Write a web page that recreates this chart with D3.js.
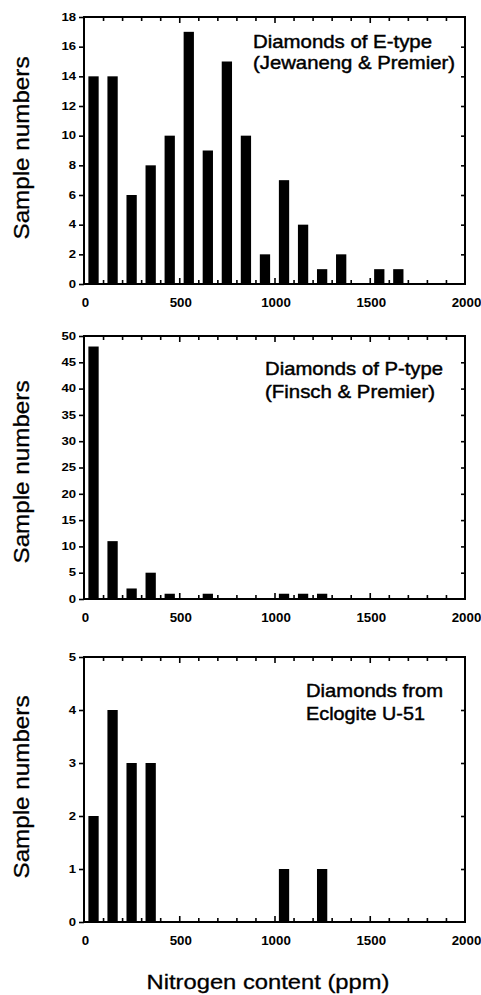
<!DOCTYPE html>
<html>
<head>
<meta charset="utf-8">
<script src="https://cdn.jsdelivr.net/npm/d3@7"></script>
<style>
  body { margin: 0; background: #fff; }
  svg { display: block; font-family: "Liberation Sans", Arial, sans-serif; }
</style>
</head>
<body>
<script>
// nitrogen bins (ppm), 100 ppm wide
const binCenters = [50, 150, 250, 350, 450, 550, 650, 750, 850, 950,
  1050, 1150, 1250, 1350, 1450, 1550, 1650, 1750, 1850, 1950];

const eTypeCounts = [14, 14, 6, 8, 10, 17, 9, 15, 10, 2, 7, 4, 1, 2, 0, 1, 1, 0, 0, 0];
const pTypeCounts = [48, 11, 2, 5, 1, 0, 1, 0, 0, 0, 1, 1, 1, 0, 0, 0, 0, 0, 0, 0];
const eclogiteCounts = [2, 4, 3, 3, 0, 0, 0, 0, 0, 0, 1, 0, 1, 0, 0, 0, 0, 0, 0, 0];

const eTypeTicks = [0, 2, 4, 6, 8, 10, 12, 14, 16, 18];
const pTypeTicks = [0, 5, 10, 15, 20, 25, 30, 35, 40, 45, 50];
const eclogiteTicks = [0, 1, 2, 3, 4, 5];

const xLabelTicks = [0, 500, 1000, 1500, 2000];
const xMinorTicks = [0, 100, 200, 300, 400, 500, 600, 700, 800, 900, 1000,
  1100, 1200, 1300, 1400, 1500, 1600, 1700, 1800, 1900, 2000];

const eTypeTitle = ["Diamonds of E-type", "(Jewaneng & Premier)"];
const pTypeTitle = ["Diamonds of P-type", "(Finsch & Premier)"];
const eclogiteTitle = ["Diamonds from", "Eclogite U-51"];

const yTitle = "Sample numbers";
const xTitle = "Nitrogen content (ppm)";

const W = 481, H = 995;
const left = 84, right = 465;
const fmt = d3.format("d");

const panels = [
  {counts: eTypeCounts, ticks: eTypeTicks, title: eTypeTitle, top: 17, bottom: 284,
   tx: 253, ty: [48, 69], tw: [179, 202], ycy: 148},
  {counts: pTypeCounts, ticks: pTypeTicks, title: pTypeTitle, top: 336, bottom: 599,
   tx: 265, ty: [375, 398], tw: [178, 170], ycy: 472},
  {counts: eclogiteCounts, ticks: eclogiteTicks, title: eclogiteTitle, top: 657, bottom: 922,
   tx: 306, ty: [697, 720], tw: [137, 119], ycy: 787}
];

const svg = d3.select("body").append("svg")
  .attr("width", W)
  .attr("height", H);

svg.append("rect").attr("width", W).attr("height", H).attr("fill", "#fff");

const x = d3.scaleLinear().domain([0, 2000]).range([left, right]);
const barW = x(54) - x(0);

panels.forEach(p => {
  const y = d3.scaleLinear()
    .domain([0, d3.max(p.ticks)])
    .range([p.bottom, p.top]);

  const g = svg.append("g");

  // bars
  g.selectAll("rect.bar")
    .data(binCenters.map((c, i) => ({c, v: p.counts[i]})).filter(d => d.v > 0))
    .enter()
    .append("rect")
    .attr("class", "bar")
    .attr("x", d => x(d.c) - barW / 2)
    .attr("y", d => y(d.v))
    .attr("width", barW)
    .attr("height", d => y(0) - y(d.v))
    .attr("fill", "#000");

  // left axis, ticks outward with labels
  const yAxis = g.append("g")
    .attr("transform", `translate(${left},0)`)
    .call(d3.axisLeft(y).tickValues(p.ticks).tickFormat(fmt).tickSize(5).tickPadding(3).tickSizeOuter(0));
  yAxis.select(".domain").remove();
  yAxis.selectAll("line").attr("stroke-width", 1.6);
  yAxis.selectAll("text")
    .attr("font-size", 10)
    .attr("font-weight", "bold")
    .attr("fill", "#000")
    .attr("font-family", "Liberation Sans, Arial, sans-serif")
    .attr("textLength", d => fmt(d).length * 7.3)
    .attr("lengthAdjust", "spacingAndGlyphs");

  // right axis, ticks inward
  const yRight = g.append("g")
    .attr("transform", `translate(${right},0)`)
    .call(d3.axisLeft(y).tickValues(p.ticks.slice(1, -1)).tickSize(4).tickFormat("").tickSizeOuter(0));
  yRight.select(".domain").remove();
  yRight.selectAll("line").attr("stroke-width", 1.6);

  // top axis, ticks inward
  const xTop = g.append("g")
    .attr("transform", `translate(0,${p.top})`)
    .call(d3.axisBottom(x).tickValues(xMinorTicks.slice(1, -1)).tickFormat("").tickSizeOuter(0)
      .tickSize(4));
  xTop.select(".domain").remove();
  xTop.selectAll("line")
    .attr("stroke-width", 1.6)
    .attr("y2", d => d % 500 === 0 ? 6 : 4);

  // bottom axis, ticks inward
  const xBot = g.append("g")
    .attr("transform", `translate(0,${p.bottom})`)
    .call(d3.axisTop(x).tickValues(xMinorTicks.slice(1, -1)).tickFormat("").tickSizeOuter(0)
      .tickSize(4));
  xBot.select(".domain").remove();
  xBot.selectAll("line")
    .attr("stroke-width", 1.6)
    .attr("y2", d => d % 500 === 0 ? -6 : -4);

  // bottom labels
  const xLab = g.append("g")
    .attr("transform", `translate(1,${p.bottom})`)
    .call(d3.axisBottom(x).tickValues(xLabelTicks).tickFormat(fmt).tickSize(0).tickPadding(14));
  xLab.select(".domain").remove();
  xLab.selectAll("text")
    .attr("font-size", 12)
    .attr("font-weight", "bold")
    .attr("fill", "#000")
    .attr("font-family", "Liberation Sans, Arial, sans-serif")
    .attr("textLength", d => fmt(d).length * 7.4)
    .attr("lengthAdjust", "spacingAndGlyphs");

  // frame
  g.append("rect")
    .attr("x", left)
    .attr("y", p.top)
    .attr("width", right - left)
    .attr("height", p.bottom - p.top)
    .attr("fill", "none")
    .attr("stroke", "#000")
    .attr("stroke-width", 2);

  // annotation
  p.title.forEach((line, i) => {
    g.append("text")
      .attr("x", p.tx)
      .attr("y", p.ty[i])
      .attr("font-size", 19)
      .attr("textLength", p.tw[i])
      .attr("lengthAdjust", "spacingAndGlyphs")
      .attr("fill", "#000")
      .attr("stroke", "#000")
      .attr("stroke-width", 0.45)
      .text(line);
  });

  // y title
  g.append("text")
    .attr("transform", `translate(29,${p.ycy}) rotate(-90)`)
    .attr("text-anchor", "middle")
    .attr("font-size", 22)
    .attr("textLength", 183)
    .attr("lengthAdjust", "spacingAndGlyphs")
    .attr("fill", "#000")
    .attr("stroke", "#000")
    .attr("stroke-width", 0.3)
    .text(yTitle);
});

svg.append("text")
  .attr("x", 268)
  .attr("y", 989)
  .attr("text-anchor", "middle")
  .attr("font-size", 21)
  .attr("textLength", 243)
  .attr("lengthAdjust", "spacingAndGlyphs")
  .attr("fill", "#000")
  .attr("stroke", "#000")
  .attr("stroke-width", 0.3)
  .text(xTitle);
</script>
</body>
</html>
